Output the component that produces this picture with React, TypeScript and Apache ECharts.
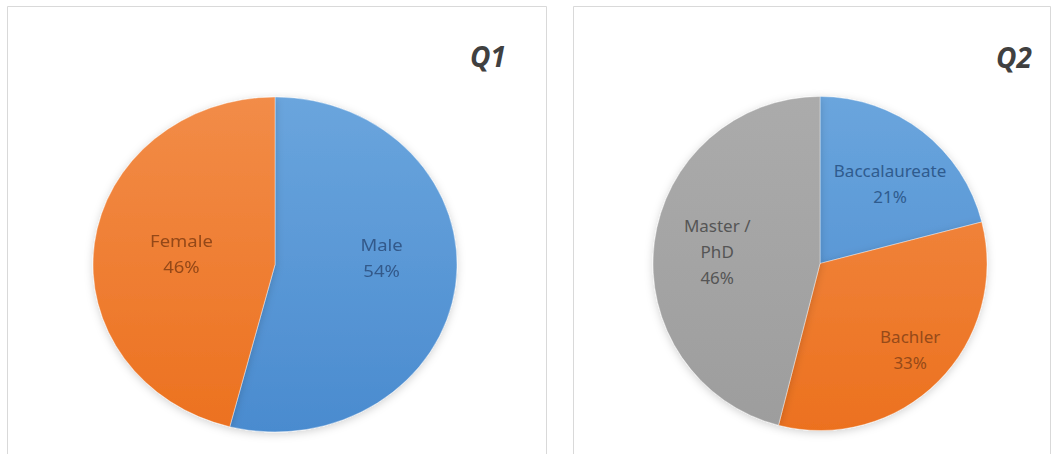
import React, { useEffect, useRef } from "react";
import * as echarts from "echarts";

// ---- data ----
const q1Categories = ["Male", "Female"];
const q1Values = [54, 46];
const q2Categories = ["Baccalaureate", "Bachler", "Master / PhD"];
const q2Values = [21, 33, 46];
const panelTitles = ["Q1", "Q2"];

// ---- layout / style (not data) ----
const W = 1059;
const H = 454;
const STRETCH = 1.0866; // left pie is drawn horizontally stretched in the reference
const Q1_CENTER = [275, 264.5];
const Q1_RADIUS = 167.5;
const Q2_CENTER = [820, 263.5];
const Q2_RADIUS = 167;
const q1LabelNudge = [[12, -18], [0, 0]];
const q2LabelNudge = [[17, -12], [29, 25], [-17, -1]];
const q1Colors = [
  ["#6aa5dd", "#4a8bcf"],
  ["#f28c48", "#ec711f"],
];
const q2Colors = [
  ["#6aa5dd", "#4a8bcf"],
  ["#f28c48", "#ec711f"],
  ["#ababab", "#9d9d9d"],
];
const q1TextColors = ["#33598a", "#944818"];
const q2TextColors = ["#2f5b8e", "#964a19", "#555555"];
const FONT = "'Noto Sans', 'Open Sans', sans-serif";

function gradient(top: number, bottom: number, c: string[]) {
  return new echarts.graphic.LinearGradient(
    0, top, 0, bottom,
    [
      { offset: 0, color: c[0] },
      { offset: 1, color: c[1] },
    ],
    true
  );
}

function pieSeries(
  cats: string[],
  vals: number[],
  center: number[],
  radius: number,
  colors: string[][],
  textColors: string[],
  nudges: number[][]
) {
  const top = center[1] - radius;
  const bottom = center[1] + radius;
  return {
    type: "pie",
    center,
    radius: [0, radius],
    startAngle: 90,
    clockwise: true,
    avoidLabelOverlap: false,
    silent: true,
    labelLine: { show: false },
    emphasis: { disabled: true },
    data: cats.map((name, i) => ({
      name,
      value: vals[i],
      itemStyle: {
        color: gradient(top, bottom, colors[i]),
        borderColor: "rgba(255,255,255,0.6)",
        borderWidth: 0.6,
        shadowBlur: 8,
        shadowOffsetY: 2,
        shadowColor: "rgba(0,0,0,0.18)",
      },
      label: {
        show: true,
        position: "inside",
        color: textColors[i],
        offset: nudges[i],
        fontFamily: FONT,
        fontSize: 17,
        lineHeight: 26,
        align: "center",
        formatter: (p: any) => `${p.name.replace(" / ", " /\n")}\n${p.value}%`,
      },
    })),
  };
}

export default function App() {
  const mainRef = useRef<HTMLDivElement>(null);
  const leftRef = useRef<HTMLDivElement>(null);

  useEffect(() => {
    if (!mainRef.current || !leftRef.current) return;
    const main = echarts.init(mainRef.current, undefined, { renderer: "svg" });
    const left = echarts.init(leftRef.current, undefined, { renderer: "svg" });

    const titleStyle = {
      fontFamily: FONT,
      fontSize: 28,
      fontWeight: "bold",
      fontStyle: "italic",
      fill: "#404040",
      align: "center",
      verticalAlign: "middle",
    };

    main.setOption({
      animation: false,
      backgroundColor: "#ffffff",
      graphic: [
        {
          type: "rect",
          z: 0,
          shape: { x: 7.5, y: 6.5, width: 539, height: 470 },
          style: { fill: "#ffffff", stroke: "#d9d9d9", lineWidth: 1 },
        },
        {
          type: "rect",
          z: 0,
          shape: { x: 573.5, y: 6.5, width: 477, height: 470 },
          style: { fill: "#ffffff", stroke: "#d9d9d9", lineWidth: 1 },
        },
        {
          type: "text",
          z: 5,
          x: 488,
          y: 56,
          style: { ...titleStyle, text: panelTitles[0] },
        },
        {
          type: "text",
          z: 5,
          x: 1014,
          y: 57,
          style: { ...titleStyle, text: panelTitles[1] },
        },
      ],
      series: [
        pieSeries(q2Categories, q2Values, Q2_CENTER, Q2_RADIUS, q2Colors, q2TextColors, q2LabelNudge),
      ],
    });

    left.setOption({
      animation: false,
      series: [
        pieSeries(q1Categories, q1Values, Q1_CENTER, Q1_RADIUS, q1Colors, q1TextColors, q1LabelNudge),
      ],
    });

    return () => {
      main.dispose();
      left.dispose();
    };
  }, []);

  return (
    <div style={{ position: "fixed", left: 0, top: 0, width: W, height: H, overflow: "hidden" }}>
      <div ref={mainRef} style={{ position: "absolute", left: 0, top: 0, width: W, height: H }} />
      <div
        ref={leftRef}
        style={{
          position: "absolute",
          left: 0,
          top: 0,
          width: 546,
          height: H,
          transform: `scaleX(${STRETCH})`,
          transformOrigin: `${Q1_CENTER[0]}px 50%`,
        }}
      />
    </div>
  );
}
